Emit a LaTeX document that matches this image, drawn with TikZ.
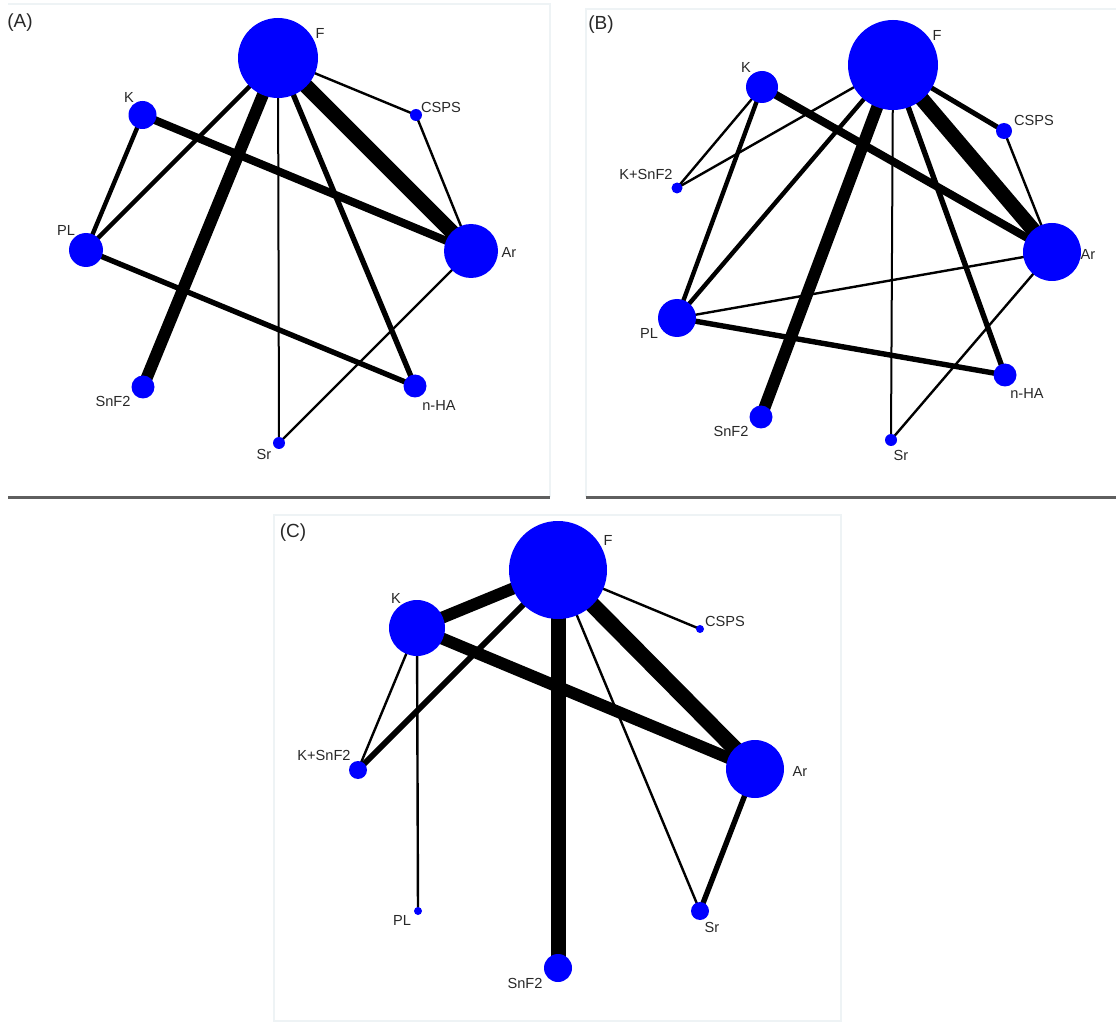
\documentclass[tikz,border=0pt]{standalone}
\usepackage{fontspec}
\setmainfont{Liberation Sans}
\usetikzlibrary{backgrounds}
\definecolor{nodeblue}{RGB}{0,0,255}
\definecolor{labgray}{RGB}{40,40,40}
\definecolor{framegray}{RGB}{238,243,245}
\definecolor{rulegray}{RGB}{95,95,95}
\tikzset{
  nd/.style={circle, fill=nodeblue, inner sep=0pt, draw=none},
  lab/.style={font=\fontsize{7.3}{8}\selectfont, text=labgray, inner sep=0pt},
  plab/.style={font=\fontsize{9.5}{10}\selectfont, text=labgray, inner sep=0pt},
  ed/.style={draw=black, line cap=butt},
  framebox/.style={draw=framegray, line width=1pt},
  bottomrule/.style={draw=rulegray, line width=1.5pt},
}
\begin{document}
\begin{tikzpicture}[x=0.5pt,y=-0.5pt]
\useasboundingbox (0,0) rectangle (1116,1022);
% ---------- Panel A ----------
\node[nd, minimum size=40pt] (aF) at (278,58) {};
\node[nd, minimum size=14pt] (aK) at (142.5,115) {};
\node[nd, minimum size=6pt] (aCSPS) at (416,115) {};
\node[nd, minimum size=17pt] (aPL) at (86,250) {};
\node[nd, minimum size=27pt] (aAr) at (471,251) {};
\node[nd, minimum size=11.5pt] (aSnF2) at (143,387) {};
\node[nd, minimum size=11.5pt] (anHA) at (415,386) {};
\node[nd, minimum size=6pt] (aSr) at (279,443) {};
\node[plab] (aT) at (20,23) {(A)};
\node[lab] (aFl) at (320,33) {F};
\node[lab] (aKl) at (129,97) {K};
\node[lab] (aCl) at (441,107) {CSPS};
\node[lab] (aPl) at (66,230) {PL};
\node[lab] (aAl) at (509,252) {Ar};
\node[lab] (aSnl) at (113,401) {SnF2};
\node[lab] (anl) at (439,405) {n-HA};
\node[lab] (aSrl) at (264,454) {Sr};
% ---------- Panel B ----------
\node[nd, minimum size=45pt] (bF) at (893,65) {};
\node[nd, minimum size=16pt] (bK) at (762,87) {};
\node[nd, minimum size=8pt] (bCSPS) at (1004,131) {};
\node[nd, minimum size=5.5pt] (bKS) at (677,188) {};
\node[nd, minimum size=29pt] (bAr) at (1052,252) {};
\node[nd, minimum size=19pt] (bPL) at (677,318) {};
\node[nd, minimum size=11.5pt] (bnHA) at (1005,375) {};
\node[nd, minimum size=11.5pt] (bSnF2) at (761,417) {};
\node[nd, minimum size=6pt] (bSr) at (891,440) {};
\node[plab] (bT) at (601,25) {(B)};
\node[lab] (bFl) at (937,35) {F};
\node[lab] (bKl) at (746,67) {K};
\node[lab] (bCl) at (1034,120) {CSPS};
\node[lab] (bKSl) at (646,174) {K+SnF2};
\node[lab] (bAl) at (1088,254) {Ar};
\node[lab] (bPl) at (649,333) {PL};
\node[lab] (bnl) at (1027,393) {n-HA};
\node[lab] (bSnl) at (731,431) {SnF2};
\node[lab] (bSrl) at (901,455) {Sr};
% ---------- Panel C ----------
\node[nd, minimum size=49pt] (cF) at (558,570) {};
\node[nd, minimum size=28pt] (cK) at (417,628) {};
\node[nd, minimum size=4pt] (cCSPS) at (700,629) {};
\node[nd, minimum size=9pt] (cKS) at (358,770) {};
\node[nd, minimum size=29pt] (cAr) at (755,769) {};
\node[nd, minimum size=4pt] (cPL) at (418,911) {};
\node[nd, minimum size=9pt] (cSr) at (700,911) {};
\node[nd, minimum size=14pt] (cSnF2) at (558,968) {};
\node[plab] (cT) at (293,533) {(C)};
\node[lab] (cFl) at (608,540) {F};
\node[lab] (cKl) at (396,598) {K};
\node[lab] (cCl) at (725,621) {CSPS};
\node[lab] (cKSl) at (324,755) {K+SnF2};
\node[lab] (cAl) at (800,771) {Ar};
\node[lab] (cPl) at (402,920) {PL};
\node[lab] (cSrl) at (712,927) {Sr};
\node[lab] (cSnl) at (525,983) {SnF2};
\begin{pgfonlayer}{background}
% frames
\coordinate (fa1) at (8,4); \coordinate (fa2) at (550,4); \coordinate (fa3) at (550,497);
\coordinate (fa4) at (8,497);
\draw[framebox] (fa1) -- (fa2) -- (fa3);
\draw[bottomrule] (fa4) -- (fa3);
\coordinate (fb1) at (586,497); \coordinate (fb2) at (586,9); \coordinate (fb3) at (1116,9);
\coordinate (fb4) at (1116,497);
\draw[framebox] (fb1) -- (fb2) -- (fb3);
\draw[bottomrule] (fb1) -- (fb4);
\coordinate (fc1) at (274,515); \coordinate (fc2) at (841,1021);
\draw[framebox] (fc1) rectangle (fc2);
% edges A
\draw[ed, line width=7.5pt] (aF.center) -- (aAr.center);
\draw[ed, line width=6pt] (aF.center) -- (aSnF2.center);
\draw[ed, line width=4pt] (aK.center) -- (aAr.center);
\draw[ed, line width=2.7pt] (aF.center) -- (anHA.center);
\draw[ed, line width=2.7pt] (aPL.center) -- (anHA.center);
\draw[ed, line width=2.2pt] (aF.center) -- (aPL.center);
\draw[ed, line width=2.2pt] (aK.center) -- (aPL.center);
\draw[ed, line width=1.2pt] (aF.center) -- (aCSPS.center);
\draw[ed, line width=1.2pt] (aCSPS.center) -- (aAr.center);
\draw[ed, line width=1.2pt] (aAr.center) -- (aSr.center);
\draw[ed, line width=1pt] (aF.center) -- (aSr.center);
% edges B
\draw[ed, line width=7.5pt] (bF.center) -- (bAr.center);
\draw[ed, line width=6pt] (bF.center) -- (bSnF2.center);
\draw[ed, line width=4pt] (bK.center) -- (bAr.center);
\draw[ed, line width=2.7pt] (bF.center) -- (bnHA.center);
\draw[ed, line width=2.7pt] (bPL.center) -- (bnHA.center);
\draw[ed, line width=2.2pt] (bF.center) -- (bPL.center);
\draw[ed, line width=2.2pt] (bK.center) -- (bPL.center);
\draw[ed, line width=2.5pt] (bF.center) -- (bCSPS.center);
\draw[ed, line width=1.2pt] (bCSPS.center) -- (bAr.center);
\draw[ed, line width=1.2pt] (bPL.center) -- (bAr.center);
\draw[ed, line width=1.2pt] (bAr.center) -- (bSr.center);
\draw[ed, line width=1pt] (bF.center) -- (bSr.center);
\draw[ed, line width=1.2pt] (bK.center) -- (bKS.center);
\draw[ed, line width=1.2pt] (bF.center) -- (bKS.center);
% edges C
\draw[ed, line width=7.5pt] (cF.center) -- (cSnF2.center);
\draw[ed, line width=8pt] (cF.center) -- (cAr.center);
\draw[ed, line width=6pt] (cK.center) -- (cAr.center);
\draw[ed, line width=6pt] (cF.center) -- (cK.center);
\draw[ed, line width=3pt] (cF.center) -- (cKS.center);
\draw[ed, line width=2.7pt] (cAr.center) -- (cSr.center);
\draw[ed, line width=1.2pt] (cF.center) -- (cCSPS.center);
\draw[ed, line width=1.2pt] (cF.center) -- (cSr.center);
\draw[ed, line width=1.2pt] (cK.center) -- (cKS.center);
\draw[ed, line width=1.2pt] (cK.center) -- (cPL.center);
\end{pgfonlayer}
\end{tikzpicture}
\end{document}
